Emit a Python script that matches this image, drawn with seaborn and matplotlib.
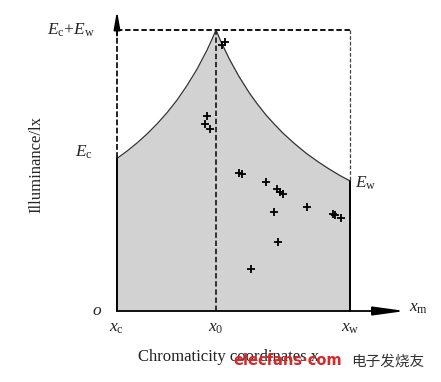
import numpy as np
import pandas as pd
import matplotlib
matplotlib.use("Agg")
import matplotlib.pyplot as plt
import seaborn as sns

# ---- data (normalised: x from xc=0 to xw=1, y from 0 to Ec+Ew=1) ----
x_ticks_pos = [0.0, 0.425, 1.0]
x_tick_labels = [r"$x_{\rm c}$", r"$x_0$", r"$x_{\rm w}$"]
Ec_level = 0.543
Ew_level = 0.463
x0_pos = 0.425

curve_x = [0.0, 0.043, 0.086, 0.129, 0.172, 0.215, 0.258, 0.300, 0.343, 0.386, 0.405,
           0.425, 0.435, 0.446, 0.482, 0.524, 0.568, 0.601, 0.639, 0.674, 0.711, 0.760,
           0.811, 0.863, 0.911, 0.957, 1.0]
curve_y = [0.543, 0.569, 0.598, 0.630, 0.666, 0.706, 0.751, 0.802, 0.860, 0.928, 0.962,
           1.0, 0.980, 0.959, 0.897, 0.834, 0.776, 0.738, 0.698, 0.666, 0.634, 0.597,
           0.562, 0.531, 0.505, 0.482, 0.463]

pts_x = [0.385, 0.378, 0.399, 0.525, 0.538, 0.639, 0.685, 0.700, 0.711, 0.675,
         0.814, 0.926, 0.934, 0.963, 0.692, 0.575, 0.451, 0.464]
pts_y = [0.694, 0.664, 0.648, 0.490, 0.488, 0.459, 0.433, 0.423, 0.416, 0.353,
         0.369, 0.345, 0.341, 0.332, 0.247, 0.148, 0.947, 0.957]

sns.set_theme(style="white")
plt.rcParams['font.family'] = ['Liberation Serif', 'DejaVu Serif']
plt.rcParams['mathtext.fontset'] = 'custom'
plt.rcParams['mathtext.rm'] = 'Liberation Serif'
plt.rcParams['mathtext.it'] = 'Liberation Serif:italic'

fig = plt.figure(figsize=(4.41, 3.82), dpi=100)
ax = fig.add_axes([0, 0, 1, 1])
ax.set_xlim(-117 / 233, (441 - 117) / 233)
ax.set_ylim(-(382 - 311) / 281, 311 / 281)
ax.axis("off")

curve = pd.DataFrame({"x": curve_x, "y": curve_y})
pts = pd.DataFrame({"x": pts_x, "y": pts_y})

# shaded region
ax.fill_between(curve["x"], 0, curve["y"], color="#d2d2d2", lw=0, zorder=1)
sns.lineplot(data=curve, x="x", y="y", ax=ax, color="#333333", lw=0.9,
             sort=False, estimator=None, zorder=3)

# solid edges
ax.plot([0, 0], [0, Ec_level], color="black", lw=1.4, zorder=4)
ax.plot([1, 1], [0, Ew_level], color="black", lw=1.4, zorder=4)

# dashed guide lines
ax.plot([0, 1], [1, 1], color="black", lw=1.3, ls=(0, (3, 1.5)), zorder=4)
ax.plot([1, 1], [1, Ew_level], color="#444444", lw=0.9, ls=(0, (3, 1.5)), zorder=4)
ax.plot([x0_pos, x0_pos], [0, 1], color="#222222", lw=1.3, ls=(0, (3, 1.5)), zorder=4)
ax.plot([0, 0], [Ec_level, 1.03], color="#222222", lw=1.4, ls=(0, (3, 1.2)), zorder=4)

# axes arrows
ax.annotate("", xy=(0, 1.068), xytext=(0, 0.98),
            arrowprops=dict(arrowstyle="-|>,head_length=0.9,head_width=0.16",
                            color="black", lw=1.2, shrinkA=0, shrinkB=0), zorder=5)
ax.annotate("", xy=(1.237, 0), xytext=(0, 0),
            arrowprops=dict(arrowstyle="-|>,head_length=1.6,head_width=0.22",
                            color="black", lw=1.3, shrinkA=0, shrinkB=0), zorder=5)

# points
sns.scatterplot(data=pts, x="x", y="y", ax=ax, marker="+", color="black",
                s=30, linewidth=1.3, zorder=6)

fs = 12.5
ax.text(-0.095, 1.0, r"$E_{\rm c}$+$E_{\rm w}$", ha="right", va="center", fontsize=fs)
ax.text(-0.105, 0.565, r"$E_{\rm c}$", ha="right", va="center", fontsize=fs)
ax.text(1.02, 0.455, r"$E_{\rm w}$", ha="left", va="center", fontsize=fs)
ax.text(-0.065, 0.0, r"$o$", ha="right", va="center", fontsize=fs)
ax.text(1.255, 0.01, r"$x_{\rm m}$", ha="left", va="center", fontsize=fs)
for xp, lab in zip(x_ticks_pos, x_tick_labels):
    ax.text(xp, -0.06, lab, ha="center", va="center", fontsize=fs)

ax.text(-0.345, 0.52, "Illuminance/lx", rotation=90, ha="center", va="center", fontsize=12)
ax.text(0.48, -0.165, "Chromaticity coordinates x", ha="center", va="center",
        fontsize=12, color="#222222")

# watermark
ax.text(0.734, -0.175, "elecfans·com", ha="center", va="center", fontsize=10.5,
        color="#d42a2a", fontweight="bold", family=["DejaVu Sans"], zorder=7)
ax.text(1.163, -0.18, "电子发烧友", ha="center", va="center", fontsize=10.5,
        color="#333333", family=["Noto Sans CJK SC", "DejaVu Sans"], zorder=7)

fig.savefig("out.png", dpi=100)
